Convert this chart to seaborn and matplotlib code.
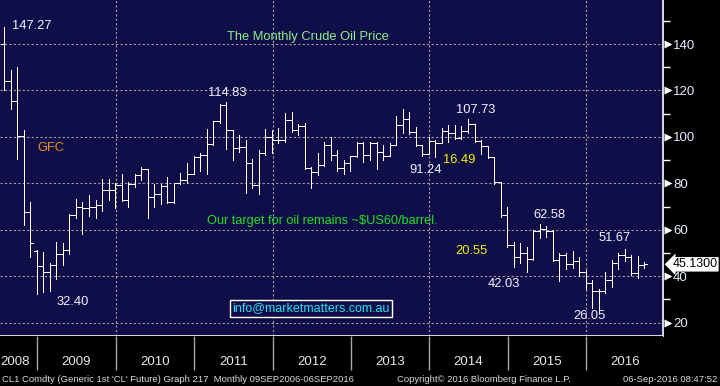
import numpy as np
import pandas as pd
import matplotlib
matplotlib.use("Agg")
import matplotlib.pyplot as plt
import matplotlib.transforms as mtrans
import seaborn as sns

# ---------------- data ----------------
months = pd.period_range("2008-07", "2016-09", freq="M")

opens = [140.0, 124.1, 115.5, 100.6, 67.8, 51.0,
         44.6, 41.7, 44.8, 49.7, 51.1, 66.3, 69.9, 69.5, 70.0, 70.6, 77.0, 77.3,
         79.4, 72.9, 79.7, 83.6, 86.0, 74.0, 75.6, 79.0, 71.9, 80.0, 81.4, 84.0,
         91.4, 92.0, 96.9, 106.8, 113.9, 102.8, 95.4, 95.7, 88.6, 79.3, 93.2, 100.1,
         98.8, 98.5, 107.3, 103.0, 104.9, 86.5, 84.8, 88.1, 96.5, 92.2, 86.5, 88.9,
         91.8, 97.5, 92.1, 97.2, 93.4, 91.9, 96.6, 105.0, 107.6, 102.3, 96.4, 92.7,
         98.4, 97.5, 102.6, 101.6, 99.7, 102.7, 105.4, 98.2, 96.0, 91.2, 80.5, 66.2,
         53.3, 48.2, 49.8, 47.6, 59.6, 60.3, 59.5, 47.1, 49.2, 45.1, 46.6, 41.7,
         37.0, 33.6, 33.8, 38.3, 45.9, 49.1, 48.3, 41.6, 44.7]
highs = [147.27, 128.6, 130.0, 103.0, 71.8, 51.3,
         50.5, 45.7, 54.7, 54.2, 66.7, 73.4, 72.0, 75.0, 73.0, 82.0, 81.9, 80.0,
         83.9, 80.7, 84.0, 86.9, 86.3, 79.6, 79.6, 82.9, 80.0, 84.3, 88.6, 91.8,
         93.2, 103.4, 107.0, 114.0, 114.83, 103.0, 100.8, 98.7, 90.3, 94.2, 103.3, 103.0,
         103.7, 110.2, 110.6, 105.6, 106.1, 86.9, 93.2, 98.0, 100.1, 94.4, 90.1, 91.8,
         98.0, 98.0, 97.7, 97.7, 96.6, 97.3, 109.0, 112.2, 110.7, 104.4, 96.5, 100.1,
         98.7, 103.7, 105.1, 105.1, 104.5, 107.73, 105.6, 98.7, 96.0, 91.5, 80.7, 69.7,
         54.9, 54.2, 52.7, 59.9, 62.58, 61.8, 59.7, 49.9, 49.9, 50.9, 48.4, 42.7,
         38.4, 34.7, 41.9, 46.8, 50.2, 51.67, 49.0, 48.8, 46.0]
lows = [120.4, 112.0, 90.5, 62.0, 48.3, 32.40,
        33.2, 33.6, 38.7, 45.0, 49.4, 65.0, 58.3, 65.8, 65.1, 68.0, 72.8, 69.3,
        72.4, 69.9, 78.6, 81.4, 65.0, 70.0, 71.1, 71.4, 71.7, 79.8, 80.0, 83.9,
        85.5, 84.0, 96.5, 105.8, 94.8, 90.1, 93.6, 76.0, 77.9, 75.3, 92.2, 92.9,
        97.5, 98.0, 102.3, 101.0, 86.0, 77.9, 83.5, 87.5, 90.0, 85.5, 84.0, 85.5,
        91.5, 89.3, 90.1, 86.1, 90.1, 91.8, 96.3, 101.8, 101.3, 96.0, 91.8, 92.6,
        91.24, 97.2, 97.9, 99.0, 99.2, 101.8, 97.9, 92.5, 90.8, 79.8, 65.7, 52.7,
        44.1, 45.6, 42.03, 47.0, 56.5, 57.0, 46.7, 37.8, 43.2, 43.6, 39.9, 34.5,
        26.2, 26.05, 32.7, 35.2, 43.0, 46.5, 40.6, 39.2, 43.5]
closes = [124.1, 115.5, 100.6, 67.8, 54.4, 44.6,
          41.7, 44.8, 49.7, 51.1, 66.3, 69.9, 69.5, 70.0, 70.6, 77.0, 77.3, 79.4,
          72.9, 79.7, 83.6, 86.0, 74.0, 75.6, 79.0, 71.9, 80.0, 81.4, 83.9, 91.2,
          92.0, 96.9, 106.8, 113.9, 102.8, 95.4, 95.7, 88.6, 79.3, 93.2, 100.1, 98.8,
          98.5, 107.3, 103.0, 104.9, 86.5, 84.8, 88.1, 96.5, 92.2, 86.5, 88.9, 91.8,
          97.5, 92.1, 97.2, 93.4, 91.9, 96.6, 105.0, 107.6, 102.3, 96.4, 92.7, 98.4,
          97.5, 102.6, 101.6, 99.7, 102.7, 105.4, 98.2, 96.0, 91.2, 80.5, 66.2, 53.3,
          48.2, 49.8, 47.6, 59.6, 60.3, 59.5, 47.1, 49.2, 45.1, 46.6, 41.7, 37.0,
          33.6, 33.8, 38.3, 45.9, 49.1, 48.3, 41.6, 44.7, 45.13]

year_labels = [2008, 2009, 2010, 2011, 2012, 2013, 2014, 2015, 2016]
y_major = [20, 40, 60, 80, 100, 120, 140]
y_minor = [30, 50, 70, 90, 110, 130, 150]
last_price = 45.13

# ---------------- style ----------------
sns.set_style("dark")
plt.rcParams["font.family"] = ["Liberation Sans", "DejaVu Sans"]

NAVY = "#100e48"
FS = 9.3
fig = plt.figure(figsize=(7.2, 3.86), dpi=100, facecolor="black")
ax = fig.add_axes([0, 50 / 386, 663.3 / 720, 336 / 386])
ax.set_facecolor(NAVY)

# month-end positions, months counted from Jan 2008
t = np.array([(p.year - 2008) * 12 + p.month - 1 for p in months]) + 0.91
unit = np.arange(len(t))
hw = 0.46

hl = pd.DataFrame({"t": np.r_[t, t], "price": np.r_[highs, lows], "u": np.r_[unit, unit]})
op = pd.DataFrame({"t": np.r_[t - hw, t], "price": np.r_[opens, opens], "u": np.r_[unit, unit]})
cl = pd.DataFrame({"t": np.r_[t, t + hw], "price": np.r_[closes, closes], "u": np.r_[unit, unit]})
for d in (hl, op, cl):
    sns.lineplot(data=d, x="t", y="price", units="u", estimator=None, sort=False,
                 color="white", lw=0.72, ax=ax, legend=False, antialiased=False)

ax.set_xlim(6.29, 107.8)
ax.set_ylim(14.27, 158.95)

# grid
ax.set_xticks([24, 48, 72, 96])
ax.set_xticklabels([])
ax.tick_params(axis="x", length=0)
ax.set_yticks(y_major)
ax.set_yticks(y_minor, minor=True)
ax.grid(True, which="major", color="#a0a0a0", lw=0.8, ls=(0, (2.0, 2.0)))
ax.grid(False, which="minor")
ax.set_xlabel("")
ax.set_ylabel("")

ax.yaxis.tick_right()
ax.tick_params(axis="y", which="major", length=0, pad=7, labelsize=9.5,
               labelcolor="#e4ecff")
ax.tick_params(axis="y", which="minor", length=5, width=1, color="white", direction="out")
for s in ["top", "left"]:
    ax.spines[s].set_visible(False)
for s in ["right", "bottom"]:
    ax.spines[s].set_visible(True)
    ax.spines[s].set_color("white")
    ax.spines[s].set_linewidth(1.2)

trans_r = mtrans.blended_transform_factory(ax.transAxes, ax.transData)
tri_trans = trans_r + mtrans.ScaledTranslation(4.6 / 100, 0, fig.dpi_scale_trans)
ax.plot([1.0] * len(y_major), y_major, ls="none", marker=">", ms=6, color="white",
        mec="none", transform=tri_trans, clip_on=False)

# last price tag
ax.text(1.0135, last_price, "45.1300", transform=trans_r, ha="left", va="center",
        fontsize=9, color="black",
        bbox=dict(boxstyle="larrow,pad=0.1", fc="white", ec="none"))

# annotations
W = "#eef2ff"
ax.text(8.12, 147.75, "147.27", color=W, fontsize=FS, ha="left", va="center")
ax.text(41.0, 143.0, "The Monthly Crude Oil Price", color="#8ef08e", fontsize=FS, ha="left", va="center")
ax.text(38.1, 118.9, "114.83", color=W, fontsize=FS, ha="left", va="center")
ax.text(11.95, 95.2, "GFC", color="#f08a1e", fontsize=FS, ha="left", va="center")
ax.text(76.05, 111.6, "107.73", color=W, fontsize=FS, ha="left", va="center")
ax.text(69.0, 85.75, "91.24", color=W, fontsize=FS, ha="left", va="center")
ax.text(74.07, 90.05, "16.49", color="#f0f000", fontsize=FS, ha="left", va="center")
ax.text(37.96, 63.8, "Our target for oil remains ~$US60/barrel.", color="#22e022",
        fontsize=9.2, ha="left", va="center")
ax.text(15.0, 28.9, "32.40", color=W, fontsize=FS, ha="left", va="center")
ax.text(75.9, 50.9, "20.55", color="#f0f000", fontsize=FS, ha="left", va="center")
ax.text(87.99, 66.4, "62.58", color=W, fontsize=FS, ha="left", va="center")
ax.text(80.95, 36.7, "42.03", color=W, fontsize=FS, ha="left", va="center")
ax.text(97.94, 56.5, "51.67", color=W, fontsize=FS, ha="left", va="center")
ax.text(93.96, 22.9, "26.05", color=W, fontsize=FS, ha="left", va="center")
ax.text(53.87, 26.3, "info@marketmatters.com.au", color="#22e4f0", fontsize=9.0,
        ha="center", va="center",
        bbox=dict(boxstyle="square,pad=0.2", fc=NAVY, ec="white", lw=1.0))

# bottom year strip
axb = fig.add_axes([0, 14 / 386, 663.3 / 720, 36 / 386])
axb.set_facecolor("black")
axb.set_xlim(ax.get_xlim())
axb.set_ylim(0, 1)
axb.vlines([12, 24, 36, 48, 60, 72, 84, 96], 0.05, 1, color="#a8a8a8", lw=1.0)
year_pos = [8.58, 18, 30, 42, 54, 66, 78, 90, 101.9]
for yv, xp in zip(year_labels, year_pos):
    axb.text(xp, 0.28, str(yv), color="#e8e8e8", fontsize=9.5, ha="center", va="center")
axb.set_xticks([])
axb.set_yticks([])
for s in axb.spines.values():
    s.set_visible(False)

# footer
fc = "#d8d8d8"
FF = 6.8
fig.text(2 / 720, 0.018, "CL1 Comdty (Generic 1st 'CL' Future) Graph 217  Monthly 09SEP2006-06SEP2016",
         color=fc, fontsize=FF, ha="left", va="center")
fig.text(397 / 720, 0.018, "Copyright\u00a9 2016 Bloomberg Finance L.P.", color=fc,
         fontsize=FF, ha="left", va="center")
fig.text(717 / 720, 0.018, "06-Sep-2016 08:47:52", color=fc, fontsize=FF,
         ha="right", va="center")

fig.savefig("out.png", dpi=100, facecolor="black")
